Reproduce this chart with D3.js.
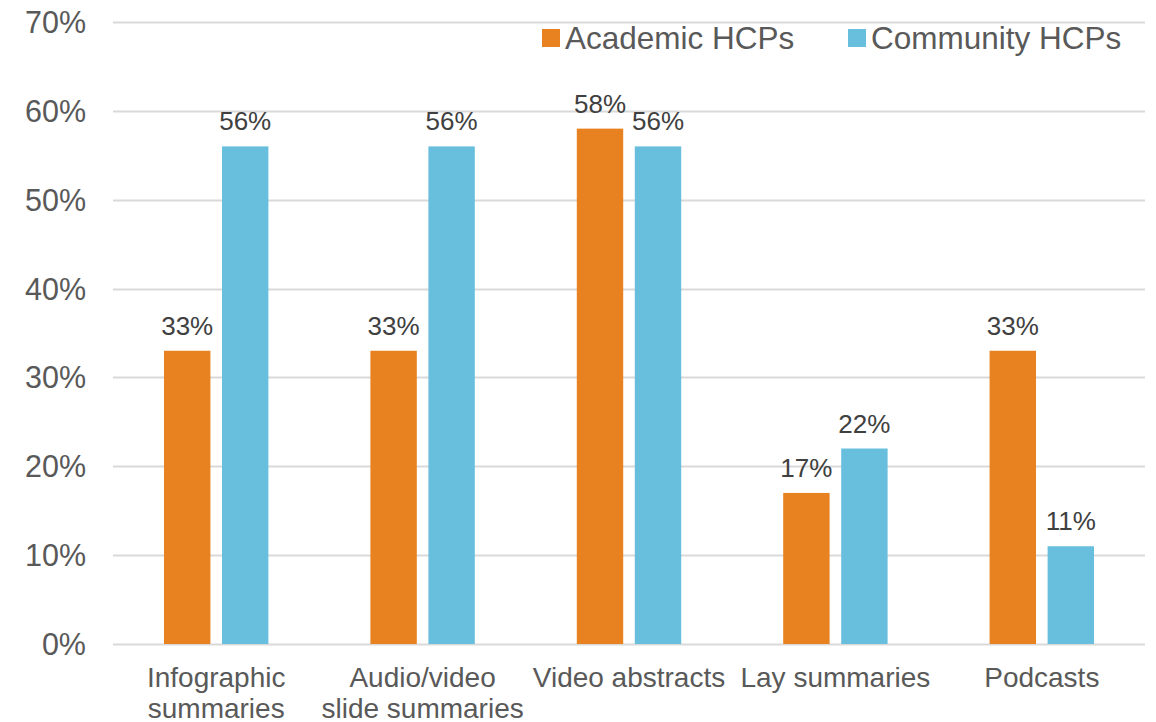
<!DOCTYPE html>
<html>
<head>
  <meta charset="utf-8">
  <title>HCP format preferences</title>
  <script src="https://cdn.jsdelivr.net/npm/d3@7"></script>
  <style>
    body { margin: 0; background: #fff; }
    text { font-family: "Liberation Sans", Arial, sans-serif; }
  </style>
</head>
<body>
<script>

// chart data
var categories = [["Infographic", "summaries"], ["Audio/video", "slide summaries"], ["Video abstracts"], ["Lay summaries"], ["Podcasts"]];
var seriesNames = ["Academic HCPs", "Community HCPs"];
var academic = [0.33, 0.33, 0.58, 0.17, 0.33];
var community = [0.56, 0.56, 0.56, 0.22, 0.11];
var yTicks = [0, 0.1, 0.2, 0.3, 0.4, 0.5, 0.6, 0.7];
var colors = ["#E8811F", "#67BFDD"];

var width = 1156,
    height = 722;

var svg = d3.select("body").append("svg")
    .attr("width", width)
    .attr("height", height);

var x = d3.scaleBand()
    .domain(d3.range(categories.length))
    .range([113, 1145])
    .paddingInner(0)
    .paddingOuter(0);

var xInner = d3.scaleBand()
    .domain([0, 1])
    .range([51, x.bandwidth() - 51])
    .paddingInner(0.2);

var y = d3.scaleLinear()
    .domain([0, 0.7])
    .range([644, 22]);

// gridlines
svg.append("g")
  .selectAll("line")
    .data(yTicks)
  .enter().append("line")
    .attr("x1", 113)
    .attr("x2", 1145)
    .attr("y1", function(d) { return Math.round(y(d)) + 0.5; })
    .attr("y2", function(d) { return Math.round(y(d)) + 0.5; })
    .attr("stroke", "#D9D9D9")
    .attr("stroke-width", 2);

// y tick labels
svg.append("g")
  .selectAll("text")
    .data(yTicks)
  .enter().append("text")
    .attr("x", 86)
    .attr("y", function(d) { return y(d); })
    .attr("dy", "0.36em")
    .attr("text-anchor", "end")
    .attr("font-size", 30.5)
    .attr("fill", "#595959")
    .text(d3.format(".0%"));

// bars, one group per category
var series = [academic, community];
var groups = svg.append("g")
  .selectAll("g")
    .data(categories)
  .enter().append("g")
    .attr("transform", function(d, i) { return "translate(" + x(i) + ",0)"; });

groups.selectAll("rect")
    .data(function(d, i) { return series.map(function(s, k) { return {k: k, v: s[i]}; }); })
  .enter().append("rect")
    .attr("x", function(d) { return xInner(d.k); })
    .attr("width", xInner.bandwidth())
    .attr("y", function(d) { return y(d.v); })
    .attr("height", function(d) { return y(0) - y(d.v); })
    .attr("fill", function(d) { return colors[d.k]; });

groups.selectAll("text.label")
    .data(function(d, i) { return series.map(function(s, k) { return {k: k, v: s[i]}; }); })
  .enter().append("text")
    .attr("class", "label")
    .attr("x", function(d) { return xInner(d.k) + xInner.bandwidth() / 2; })
    .attr("y", function(d) { return y(d.v) - 16; })
    .attr("text-anchor", "middle")
    .attr("font-size", 26)
    .attr("fill", "#404040")
    .text(function(d) { return d3.format(".0%")(d.v); });

// category labels
groups.append("text")
    .attr("x", x.bandwidth() / 2)
    .attr("y", 687)
    .attr("text-anchor", "middle")
    .attr("font-size", 28)
    .attr("fill", "#595959")
  .selectAll("tspan")
    .data(function(d) { return d; })
  .enter().append("tspan")
    .attr("x", x.bandwidth() / 2)
    .attr("dy", function(d, i) { return i ? 31 : 0; })
    .text(function(d) { return d; });

// legend
var legendX = [542, 848];
var legend = svg.append("g")
  .selectAll("g")
    .data(seriesNames)
  .enter().append("g")
    .attr("transform", function(d, i) { return "translate(" + legendX[i] + ",38)"; });

legend.append("rect")
    .attr("x", 0)
    .attr("y", -9)
    .attr("width", 18)
    .attr("height", 18)
    .attr("fill", function(d, i) { return colors[i]; });

legend.append("text")
    .attr("x", 23)
    .attr("dy", "0.36em")
    .attr("font-size", 31.5)
    .attr("fill", "#595959")
    .text(function(d) { return d; });

</script>
</body>
</html>
